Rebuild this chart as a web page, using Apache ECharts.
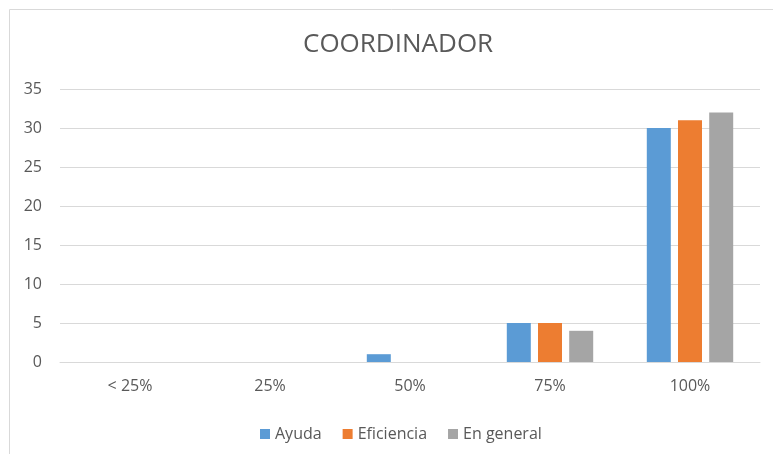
<!DOCTYPE html>
<html>
<head>
<meta charset="utf-8">
<script src="https://cdn.jsdelivr.net/npm/echarts@6/dist/echarts.min.js"></script>
<style>
  html, body { margin: 0; padding: 0; background: #fff; }
  #chart { width: 773px; height: 454px; }
</style>
</head>
<body>
<div id="chart"></div>
<script>
// categories and series values
const categories = ['< 25%', '25%', '50%', '75%', '100%'];
const ayuda = [0, 0, 1, 5, 30];
const eficiencia = [0, 0, 0, 5, 31];
const enGeneral = [0, 0, 0, 4, 32];

const font = 'Open Sans';
const textColor = '#595959';

const myChart = echarts.init(document.getElementById('chart'));

function barSeries(name, data, color) {
    return {
        name: name,
        type: 'bar',
        data: data,
        barWidth: 24,
        barGap: '30%',
        itemStyle: { color: color },
        emphasis: { disabled: true }
    };
}

const option = {
    animation: false,
    title: {
        text: 'COORDINADOR',
        left: 298,
        top: 27,
        textStyle: { fontFamily: font, fontSize: 26, fontWeight: 'normal', color: textColor }
    },
    // thin frame round the chart (top and left edges only show)
    graphic: [{
        type: 'polyline',
        shape: { points: [[9.5, 454], [9.5, 9.5], [773, 9.5]] },
        style: { stroke: '#d9d9d9', lineWidth: 1, fill: null }
    }],
    legend: {
        left: 255,
        top: 421,
        itemWidth: 10,
        itemHeight: 10,
        itemGap: 21,
        icon: 'rect',
        textStyle: { fontFamily: font, fontSize: 16, color: textColor }
    },
    grid: { left: 60, right: 13, top: 89, bottom: 92 },
    xAxis: {
        type: 'category',
        data: categories,
        axisLine: { lineStyle: { color: '#d9d9d9' } },
        axisTick: { show: false },
        axisLabel: { margin: 16, fontFamily: font, fontSize: 16, color: textColor }
    },
    yAxis: {
        type: 'value',
        min: 0,
        max: 35,
        interval: 5,
        axisLine: { show: false },
        axisTick: { show: false },
        splitLine: { lineStyle: { color: '#d9d9d9' } },
        axisLabel: { margin: 18, fontFamily: font, fontSize: 16, color: textColor }
    },
    series: [
        barSeries('Ayuda', ayuda, '#5b9bd5'),
        barSeries('Eficiencia', eficiencia, '#ed7d31'),
        barSeries('En general', enGeneral, '#a5a5a5')
    ]
};

myChart.setOption(option);
</script>
</body>
</html>
